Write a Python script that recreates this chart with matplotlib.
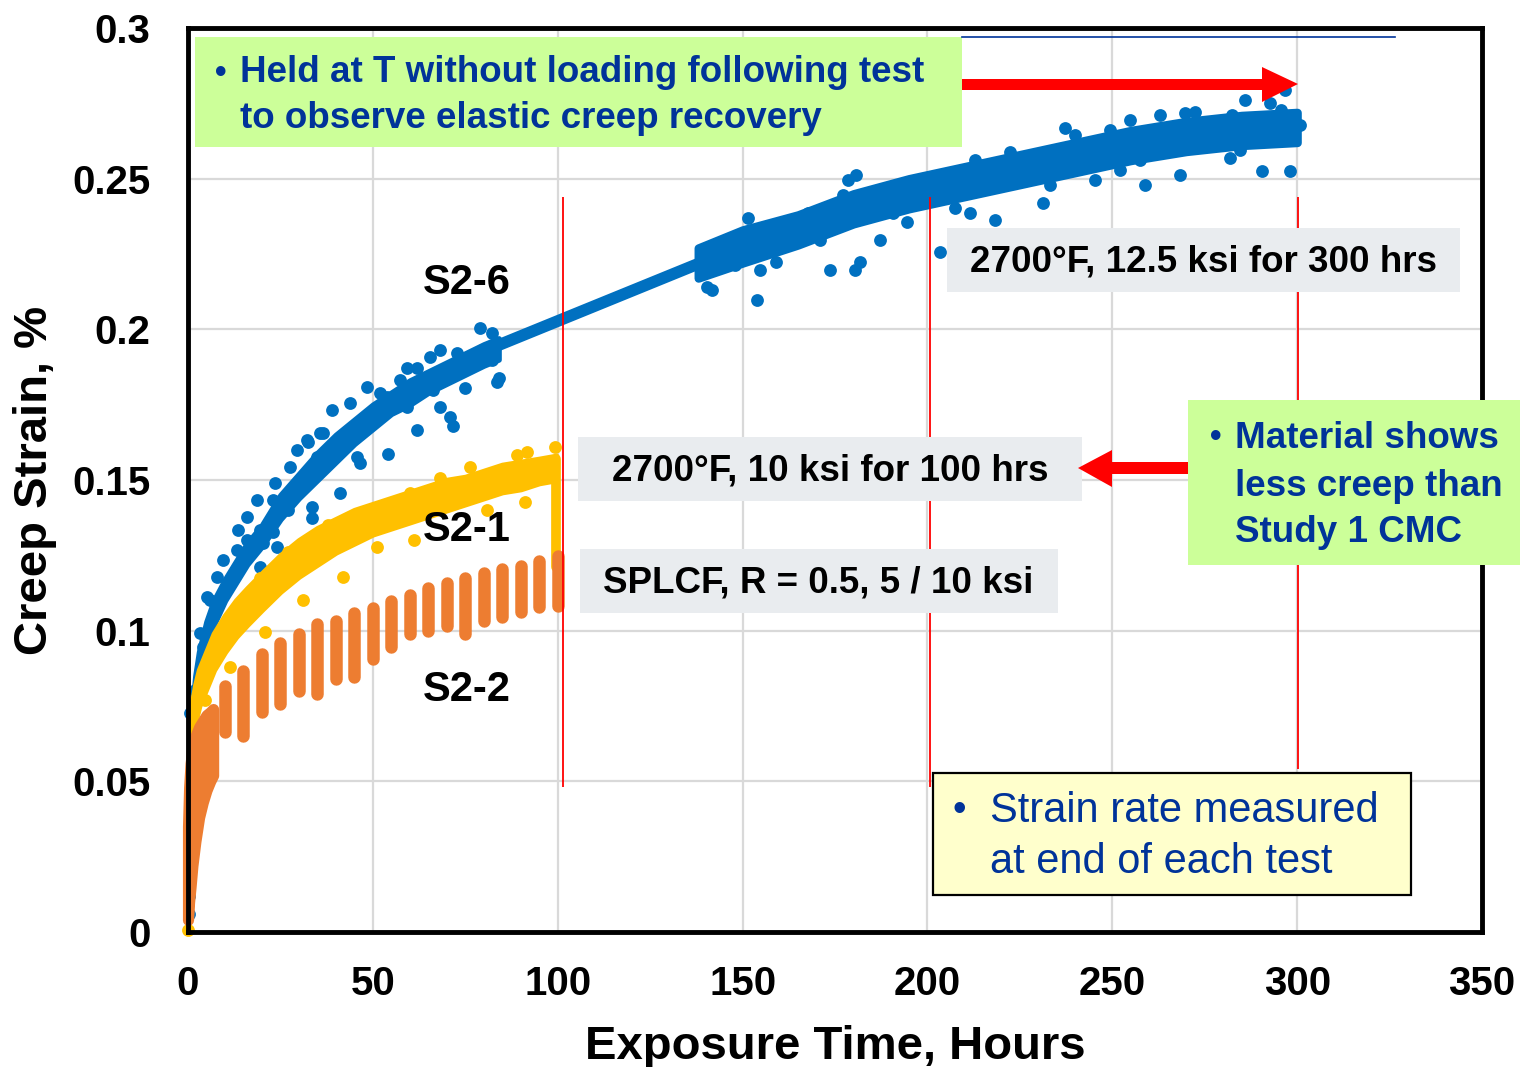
import numpy as np
import matplotlib
matplotlib.use('Agg')
import matplotlib.pyplot as plt
from matplotlib.patches import Rectangle, Polygon

plt.rcParams['font.family'] = ['Liberation Sans', 'DejaVu Sans']

# ---- S2-6 (2700F, 12.5 ksi, 300 h) ----
# dense band of the early data (lower / upper edge of the dot cloud)
s26_left_t = [0, 0.3, 1, 2, 3, 5, 7, 10, 13, 16, 20, 25, 30, 35, 40, 45, 50, 55, 60, 65, 70,
              75, 80, 84]
s26_left_lo = [0.004, 0.03, 0.062, 0.076, 0.085, 0.095, 0.102, 0.110, 0.116, 0.122, 0.128,
               0.137, 0.144, 0.150, 0.156, 0.162, 0.167, 0.172, 0.175, 0.179, 0.182, 0.185,
               0.188, 0.190]
s26_left_hi = [0.02, 0.055, 0.072, 0.085, 0.093, 0.103, 0.110, 0.117, 0.123, 0.129, 0.135,
               0.145, 0.152, 0.159, 0.165, 0.170, 0.175, 0.179, 0.183, 0.186, 0.189, 0.192,
               0.195, 0.197]
# straight section where no data were logged
s26_ramp_t = [82.5, 138.5]
s26_ramp_v = [0.194, 0.222]
# dense band of the late data
s26_right_t = [138, 150, 165, 180, 195, 210, 225, 240, 255, 270, 285, 300]
s26_right_lo = [0.217, 0.222, 0.228, 0.235, 0.240, 0.244, 0.248, 0.252, 0.256, 0.259, 0.261,
                0.262]
s26_right_hi = [0.227, 0.233, 0.238, 0.245, 0.250, 0.254, 0.258, 0.262, 0.266, 0.269, 0.271,
                0.272]
s26_pts_t = [79.0, 82.2, 68.2, 65.5, 72.7, 59.2, 61.9, 48.3, 57.4, 43.8, 38.9, 70.9, 71.8,
             68.2, 61.9, 75.0, 83.5, 54.2, 41.1, 33.5, 18.6, 15.9, 13.6, 23.5, 29.4, 32.5,
             35.7, 45.6, 46.5, 26.7, 34.8, 82.2, 84.0, 79.5, 51.9, 33.5, 27.1, 21.3, 12.3,
             12.7, 12.7, 5.1, 1.9, 0.5, 7.8, 4.1, 19.5, 9.6, 23.1, 24.0,
             53.8, 59.2, 36.6, 40.2, 44.7, 48.3, 27.6, 31.2, 23.1, 19.5, 66.4, 70.0, 76.3,
             51.9, 32.1, 34.8, 15.9, 13.2, 7.8, 6.0, 3.2, 20.4,
             140.4, 141.8, 154.0, 151.5, 148.0, 159.1, 167.7, 173.7, 180.5, 181.8, 187.2,
             194.5, 178.6, 180.7, 207.5, 211.6, 218.3, 222.4, 231.3, 237.3, 249.5, 254.9,
             258.9, 263.0, 269.8, 281.9, 286.0, 292.7, 290.6, 298.2, 203.5, 197.5, 212.9,
             233.2, 252.2, 268.4, 282.5, 300.9, 154.8, 146.1, 296.8, 177.2, 190.7, 245.4,
             143.9, 157.5, 171.0, 184.5, 199.4, 214.3, 227.8, 240.0, 257.6, 272.5, 284.6,
             295.5, 0.2, 0.4]
s26_pts_v = [0.2003, 0.1987, 0.1932, 0.1909, 0.1920, 0.1871, 0.1871, 0.1810, 0.1832, 0.1755,
             0.1732, 0.1710, 0.1679, 0.1743, 0.1666, 0.1804, 0.1826, 0.1586, 0.1456, 0.1373,
             0.1434, 0.1378, 0.1334, 0.1489, 0.1600, 0.1627, 0.1655, 0.1577, 0.1555, 0.1423,
             0.1522, 0.1898, 0.1838, 0.1932, 0.1743, 0.1411, 0.1401, 0.1179, 0.1035, 0.1008,
             0.1063, 0.1113, 0.0803, 0.0726, 0.0980, 0.0947, 0.1212, 0.1235, 0.1329, 0.1279,
             0.1777, 0.1743, 0.1655, 0.1611, 0.1655, 0.1710, 0.1544, 0.1511, 0.1434, 0.1334,
             0.1799, 0.1843, 0.1876, 0.1788, 0.1633, 0.1577, 0.1301, 0.1268, 0.1179, 0.1102,
             0.0991, 0.1290,
             0.2141, 0.2131, 0.2098, 0.2370, 0.2214, 0.2224, 0.2386, 0.2197, 0.2197, 0.2224,
             0.2297, 0.2356, 0.2496, 0.2512, 0.2403, 0.2386, 0.2363, 0.2589, 0.2419, 0.2668,
             0.2662, 0.2695, 0.2479, 0.2712, 0.2718, 0.2569, 0.2761, 0.2751, 0.2527, 0.2527,
             0.2257, 0.2463, 0.2562, 0.2479, 0.2529, 0.2512, 0.2712, 0.2678, 0.2197, 0.2263,
             0.2794, 0.2446, 0.2386, 0.2496,
             0.2280, 0.2330, 0.2297, 0.2413, 0.2430, 0.2480, 0.2529, 0.2645, 0.2562, 0.2722,
             0.2595, 0.2728, 0.006, 0.012]

# ---- S2-1 (2700F, 10 ksi, 100 h) ----
s21_t = [0.3, 1, 2, 3, 5, 7, 10, 13, 16, 20, 25, 30, 35, 40, 45, 50, 55, 60, 65, 70, 75, 80,
         85, 90, 95, 99.6]
s21_lo = [0.03, 0.06, 0.07, 0.075, 0.081, 0.087, 0.093, 0.098, 0.102, 0.107, 0.113, 0.118,
          0.122, 0.126, 0.129, 0.132, 0.134, 0.136, 0.138, 0.140, 0.142, 0.144, 0.146, 0.147,
          0.149, 0.150]
s21_hi = [0.06, 0.075, 0.082, 0.087, 0.093, 0.099, 0.105, 0.110, 0.114, 0.119, 0.125, 0.130,
          0.134, 0.137, 0.140, 0.142, 0.144, 0.146, 0.148, 0.150, 0.151, 0.153, 0.155, 0.156,
          0.157, 0.158]
s21_drop_t = [99.6, 99.6]
s21_drop_v = [0.157, 0.121]
s21_pts_t = [99.3, 91.6, 88.9, 76.3, 68.2, 60.1, 42.9, 38.4, 91.2, 80.8, 61.0, 51.1, 42.0,
             43.8, 38.0, 31.2, 27.1, 24.4, 20.8, 11.4, 4.6, 19.5, 0.1]
s21_pts_v = [0.1610, 0.1594, 0.1583, 0.1544, 0.1506, 0.1456, 0.1356, 0.1345, 0.1428, 0.1401,
             0.1301, 0.1276, 0.1179, 0.1356, 0.1351, 0.1102, 0.1262, 0.1207, 0.0997, 0.0881,
             0.0770, 0.1174, 0.0005]

# ---- S2-2 (SPLCF, R = 0.5) ----
s22_block_t = [0, 0.3, 0.7, 1.2, 2, 3, 4, 5, 6, 6.8]
s22_block_lo = [0.004, 0.010, 0.015, 0.022, 0.030, 0.038, 0.043, 0.047, 0.050, 0.052]
s22_block_hi = [0.035, 0.048, 0.056, 0.061, 0.065, 0.068, 0.070, 0.072, 0.073, 0.074]
s22_t = [10, 15, 20, 25, 30, 35, 40, 45, 50, 55, 60, 65, 70, 75, 80, 85, 90, 95, 100]
s22_lo = [0.0663, 0.0652, 0.0729, 0.0757, 0.0801, 0.0790, 0.0840, 0.0845, 0.0906, 0.0945,
          0.0989, 0.1000, 0.1017, 0.0989, 0.1033, 0.1044, 0.1061, 0.1078, 0.1083]
s22_hi = [0.0816, 0.0866, 0.0921, 0.0960, 0.0988, 0.1021, 0.1032, 0.1060, 0.1076, 0.1098,
          0.1120, 0.1143, 0.1159, 0.1176, 0.1192, 0.1204, 0.1215, 0.1231, 0.1248]

end_lines_t = [101.5, 200.8, 300.3]
end_lines_lo = [0.048, 0.048, 0.054]
end_lines_hi = [0.244, 0.244, 0.244]

xticks = [0, 50, 100, 150, 200, 250, 300, 350]
yticks = [0, 0.05, 0.1, 0.15, 0.2, 0.25, 0.3]
ytick_labels = ['0', '0.05', '0.1', '0.15', '0.2', '0.25', '0.3']

blue = '#0070C0'
gold = '#FFC000'
orange = '#ED7D31'
navy = '#003399'

W, H = 1520, 1067
fig = plt.figure(figsize=(W / 100, H / 100), dpi=100)
ax = fig.add_axes([188 / W, 1 - 932 / H, (1482 - 188) / W, (932 - 28) / H])

ax.set_xlim(0, 350)
ax.set_ylim(0, 0.3)
ax.set_xticks(xticks)
ax.set_yticks(yticks)
ax.set_yticklabels(ytick_labels)
ax.grid(True, color='#D9D9D9', lw=1.6, zorder=0)
ax.set_axisbelow(True)
for sp in ax.spines.values():
    sp.set_linewidth(3.5)
    sp.set_color('black')
    sp.set_zorder(6)
ax.tick_params(axis='both', length=0, labelsize=29)
ax.tick_params(axis='y', pad=27)
ax.tick_params(axis='x', pad=24)
for lab in ax.get_xticklabels() + ax.get_yticklabels():
    lab.set_fontweight('bold')

ax.set_xlabel('Exposure Time, Hours', fontsize=34, fontweight='bold', va='center')
ax.set_ylabel('Creep Strain, %', fontsize=34, fontweight='bold', va='center')
ax.xaxis.set_label_coords(0.5, -0.127)
ax.yaxis.set_label_coords(-0.118, 0.5)

dot = 85

# S2-6
ax.fill_between(s26_left_t, s26_left_lo, s26_left_hi, color=blue, lw=4, edgecolor=blue,
                zorder=2, clip_on=False)
ax.plot(s26_ramp_t, s26_ramp_v, color=blue, lw=8.5, solid_capstyle='round', zorder=2)
ax.fill_between(s26_right_t, s26_right_lo, s26_right_hi, color=blue, lw=6, edgecolor=blue,
                joinstyle='round', zorder=2)
ax.scatter(s26_pts_t, s26_pts_v, s=dot, color=blue, lw=0, zorder=2, clip_on=False)

# S2-1
ax.fill_between(s21_t, s21_lo, s21_hi, color=gold, lw=4, edgecolor=gold, zorder=3,
                clip_on=False)
ax.plot(s21_drop_t, s21_drop_v, color=gold, lw=7, solid_capstyle='round', zorder=3)
ax.scatter(s21_pts_t, s21_pts_v, s=dot, color=gold, lw=0, zorder=3, clip_on=False)

# S2-2
ax.fill_between(s22_block_t, s22_block_lo, s22_block_hi, color=orange, lw=8,
                edgecolor=orange, joinstyle='round', zorder=4, clip_on=False)
ax.vlines(s22_t, s22_lo, s22_hi, color=orange, lw=9, capstyle='round', zorder=4)

ax.vlines(end_lines_t, end_lines_lo, end_lines_hi, color='red', lw=1.3, zorder=5)

ax.text(75.5, 0.2154, 'S2-6', fontsize=30, fontweight='bold', ha='center', va='center', zorder=6)
ax.text(75.5, 0.1334, 'S2-1', fontsize=30, fontweight='bold', ha='center', va='center', zorder=6)
ax.text(75.5, 0.0803, 'S2-2', fontsize=30, fontweight='bold', ha='center', va='center', zorder=6)

# overlay in pixel coordinates for the callouts
ov = fig.add_axes([0, 0, 1, 1], zorder=10)
ov.set_xlim(0, W)
ov.set_ylim(H, 0)
ov.axis('off')
ov.patch.set_alpha(0)

# top green note + arrow
ov.add_patch(Rectangle((195, 37), 767, 110, facecolor='#CCFF99', edgecolor='none'))
ov.plot([962, 1395], [37, 37], color=navy, lw=1.2)
ov.text(215, 73, '•', color=navy, fontsize=24, fontweight='bold', va='center')
ov.text(240, 73, 'Held at T without loading following test', color=navy, fontsize=26.5,
        fontweight='bold', va='center')
ov.text(240, 118, 'to observe elastic creep recovery', color=navy, fontsize=26.5,
        fontweight='bold', va='center')
ov.add_patch(Polygon([(962, 79), (1262, 79), (1262, 67), (1298, 84), (1262, 102),
                      (1262, 90), (962, 90)], closed=True, facecolor='red', edgecolor='none'))

# grey condition labels
grey = '#E9ECEF'
ov.add_patch(Rectangle((947, 228), 513, 64, facecolor=grey, edgecolor='none'))
ov.text(1203, 262, '2700°F, 12.5 ksi for 300 hrs', fontsize=26.5, fontweight='bold',
        ha='center', va='center')
ov.add_patch(Rectangle((578, 437), 504, 64, facecolor=grey, edgecolor='none'))
ov.text(830, 471, '2700°F, 10 ksi for 100 hrs', fontsize=26.5, fontweight='bold',
        ha='center', va='center')
ov.add_patch(Rectangle((580, 549), 478, 64, facecolor=grey, edgecolor='none'))
ov.text(818, 583, 'SPLCF, R = 0.5, 5 / 10 ksi', fontsize=26.5, fontweight='bold',
        ha='center', va='center')

# right green note + arrow
ov.add_patch(Rectangle((1188, 400), 340, 165, facecolor='#CCFF99', edgecolor='none'))
ov.text(1210, 438, '•', color=navy, fontsize=24, fontweight='bold', va='center')
for yy, line in zip([438, 486, 533], ['Material shows', 'less creep than', 'Study 1 CMC']):
    ov.text(1235, yy, line, color=navy, fontsize=26.5, fontweight='bold', va='center')
ov.add_patch(Polygon([(1188, 462), (1112, 462), (1112, 450), (1078, 468), (1112, 487),
                      (1112, 474), (1188, 474)], closed=True, facecolor='red', edgecolor='none'))

# yellow note
ov.add_patch(Rectangle((933, 773), 478, 122, facecolor='#FFFFCC', edgecolor='black', lw=1.6))
ov.text(953, 811, '•', color=navy, fontsize=28, va='center')
ov.text(990, 811, 'Strain rate measured', color=navy, fontsize=30, va='center')
ov.text(990, 862, 'at end of each test', color=navy, fontsize=30, va='center')

fig.savefig('out.png', dpi=100)
